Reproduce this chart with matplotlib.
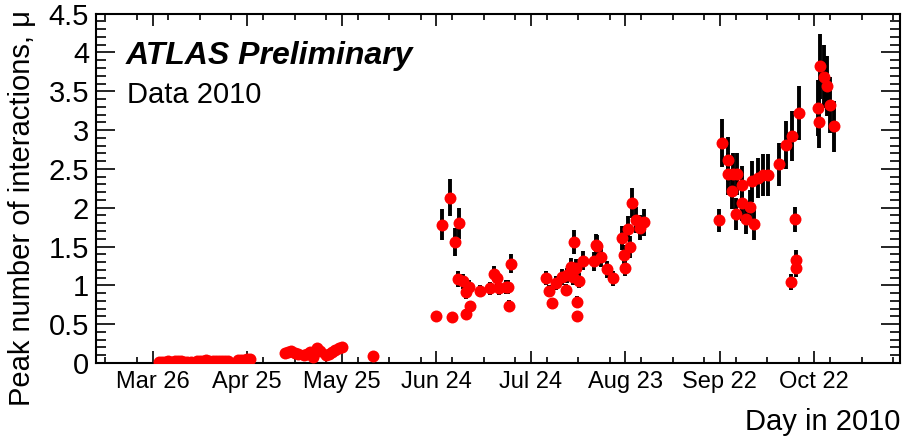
import matplotlib
matplotlib.use('Agg')
import matplotlib.pyplot as plt
import numpy as np
from matplotlib.ticker import MultipleLocator, FixedLocator

plt.rcParams['font.family'] = ['Liberation Sans', 'DejaVu Sans']

# day of year 2010, peak mu, error on peak mu
early_day = [87, 88, 89, 90, 91, 92, 93, 94, 95, 96, 97, 99, 100, 101, 102, 103,
             104, 105, 106, 107, 108, 109, 112, 113, 114, 115, 116]
early_mu = [0.01, 0.01, 0.01, 0.02, 0.01, 0.02, 0.02, 0.02, 0.01, 0.01, 0.01, 0.02,
            0.02, 0.03, 0.04, 0.03, 0.02, 0.03, 0.03, 0.02, 0.02, 0.02, 0.04, 0.04,
            0.04, 0.05, 0.05]

may_day = [127, 128, 129, 130, 131, 133, 134, 135, 136, 137, 138,
           140, 141, 142, 143, 144, 145, 155]
may_mu = [0.13, 0.14, 0.15, 0.13, 0.12, 0.10, 0.12, 0.14, 0.08, 0.19, 0.16,
          0.10, 0.12, 0.14, 0.17, 0.19, 0.20, 0.09]

jun_day = [174.9, 176.9, 179.5, 180.1, 181.0, 182.3, 181.9, 183.6, 184.4, 185.4, 184.5,
           185.7, 189.0, 192.1, 193.2, 194.4, 194.9, 197.0, 197.9, 198.0, 198.6]
jun_mu = [0.61, 1.78, 2.13, 0.59, 1.56, 1.80, 1.08, 1.05, 0.92, 0.98, 0.63,
          0.73, 0.93, 0.96, 1.15, 1.09, 0.96, 0.98, 0.98, 0.74, 1.28]
jun_err = [0.05, 0.20, 0.24, 0.05, 0.18, 0.20, 0.10, 0.10, 0.09, 0.09, 0.06,
           0.07, 0.08, 0.08, 0.10, 0.10, 0.08, 0.09, 0.09, 0.07, 0.12]

aug_day = [209.8, 210.9, 211.8, 213.0, 214.8, 216.1, 216.4, 217.7, 218.3, 218.7,
           219.4, 219.6, 219.8, 220.4, 221.5, 225.1, 225.7, 226.1, 227.2, 229.3,
           231.2, 233.9, 234.7, 235.0, 236.0, 236.5, 237.2, 238.4, 239.7, 240.9]
aug_mu = [1.09, 0.93, 0.77, 1.03, 1.11, 0.94, 1.13, 1.24, 1.11, 1.56,
          1.23, 0.79, 0.61, 1.06, 1.32, 1.31, 1.52, 1.51, 1.36, 1.21,
          1.09, 1.61, 1.39, 1.23, 1.73, 1.49, 2.06, 1.84, 1.74, 1.81]
aug_err = [0.09, 0.08, 0.07, 0.09, 0.10, 0.08, 0.10, 0.11, 0.10, 0.15,
           0.11, 0.07, 0.06, 0.10, 0.12, 0.12, 0.14, 0.14, 0.12, 0.11,
           0.10, 0.15, 0.13, 0.11, 0.16, 0.14, 0.19, 0.17, 0.16, 0.17]

oct_day = [264.8, 265.6, 267.5, 267.7, 268.8, 269.3, 270.4, 270.2, 272.1, 272.0,
           273.3, 274.6, 276.0, 275.2, 277.2, 278.8, 280.2, 283.8, 285.9, 288.0,
           290.1, 287.5, 289.0, 289.1, 289.3, 296.3, 296.6, 296.8, 298.1, 298.9,
           300.0, 301.3]
oct_mu = [1.84, 2.83, 2.62, 2.44, 2.22, 2.43, 2.44, 1.92, 2.29, 2.06,
          1.86, 2.01, 1.79, 2.34, 2.38, 2.42, 2.42, 2.56, 2.81, 2.92,
          3.22, 1.04, 1.85, 1.33, 1.23, 3.28, 3.11, 3.82, 3.69, 3.57,
          3.32, 3.05]
oct_err = [0.15, 0.31, 0.29, 0.27, 0.24, 0.27, 0.27, 0.21, 0.25, 0.23,
           0.20, 0.22, 0.20, 0.26, 0.26, 0.27, 0.27, 0.28, 0.31, 0.32,
           0.35, 0.10, 0.16, 0.13, 0.12, 0.36, 0.34, 0.42, 0.40, 0.39,
           0.36, 0.33]

tick_days = [85, 115, 145, 175, 205, 235, 265, 295]
tick_labels = ['Mar 26', 'Apr 25', 'May 25', 'Jun 24', 'Jul 24', 'Aug 23', 'Sep 22', 'Oct 22']

days = np.array(early_day + may_day + jun_day + aug_day + oct_day, dtype=float)
mu = np.array(early_mu + may_mu + jun_mu + aug_mu + oct_mu)
err = np.array([0.0] * (len(early_day) + len(may_day)) + jun_err + aug_err + oct_err)

fig = plt.figure(figsize=(9.05, 4.41), dpi=100)
ax = fig.add_axes([0.1061, 0.1769, 0.8884, 0.7921])

ax.errorbar(days, mu, yerr=err, fmt='none', ecolor='black', elinewidth=2.8, capsize=0, zorder=2)
ax.plot(days, mu, 'o', color='#ff0000', markersize=8.6, markeredgewidth=0, zorder=3)

ax.set_xlim(67.0, 322.2)
ax.set_ylim(0, 4.5)

ax.xaxis.set_major_locator(FixedLocator(tick_days))
ax.xaxis.set_minor_locator(MultipleLocator(10))
ax.set_xticklabels(tick_labels)
ax.yaxis.set_major_locator(MultipleLocator(0.5))
ax.yaxis.set_minor_locator(MultipleLocator(0.1))
ax.yaxis.set_major_formatter(matplotlib.ticker.FuncFormatter(lambda v, p: f'{v:g}'))

ax.tick_params(axis='both', which='both', direction='in', top=True, right=True, width=1.2)
ax.tick_params(axis='x', which='major', length=8.6, labelsize=17, pad=6)
ax.tick_params(axis='x', which='minor', length=4.3)
ax.tick_params(axis='y', which='major', length=13.7, labelsize=21, pad=5)
ax.tick_params(axis='y', which='minor', length=7.2)

for spine in ax.spines.values():
    spine.set_color('black')
    spine.set_linewidth(1.5)

fig.text(22 / 905, 0.977, 'Peak number of interactions, \u03bc', rotation=90,
         ha='center', va='top', fontsize=21)
fig.text(0.9945, 11 / 441, 'Day in 2010', ha='right', va='baseline', fontsize=21)

fig.text(126 / 905, 1 - 64 / 441, 'ATLAS Preliminary', fontsize=23,
         fontweight='bold', fontstyle='italic', ha='left', va='baseline')
fig.text(127 / 905, 1 - 103 / 441, 'Data 2010', fontsize=21, ha='left', va='baseline')

fig.savefig('out.png', dpi=100)
